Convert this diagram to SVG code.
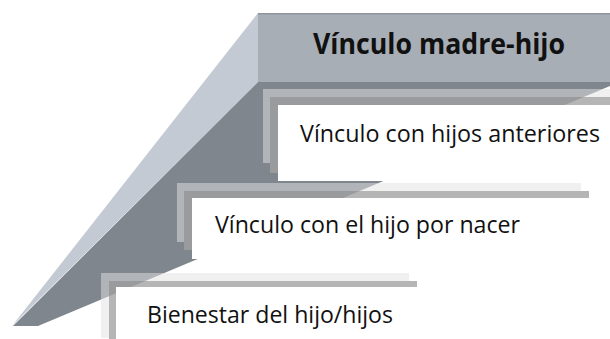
<svg xmlns="http://www.w3.org/2000/svg" width="610" height="339" viewBox="0 0 610 339">
  <style>
    .face-light { fill: #c4cad3; }
    .face-dark { fill: #7f868e; }
    .head { fill: #a8aeb6; }
    .band-out { fill: rgb(225,225,225); fill-opacity: 0.51; }
    .band-in { fill: rgb(161,161,161); fill-opacity: 0.787; }
    .box { fill: #ffffff; }
    .title { font-family: "Open Sans", "Liberation Sans", sans-serif; font-weight: bold; font-size: 29px; fill: #111111; }
    .label { font-family: "Open Sans", "Liberation Sans", sans-serif; font-size: 24px; fill: #111111; }
  </style>
  <rect width="610" height="339" fill="#ffffff"/>
  <g id="backdrop">
    <polygon class="face-light" points="258,13 258,82 12,326"/>
    <polygon class="face-dark" points="258,82 610,82 610,86 38,326 13,326"/>
  </g>
  <g id="node-main">
    <rect class="head" x="258" y="13" width="352" height="69"/>
    <rect x="258" y="13" width="352" height="1.5" fill="#8f959c"/>
    <text class="title" x="313" y="54" textLength="252" lengthAdjust="spacingAndGlyphs">Vínculo madre-hijo</text>
  </g>
  <g id="node-1">
    <path class="band-out" d="M263,89 H610 V97 H270 V163 H263 Z"/>
    <path class="band-in" d="M270,97 H610 V105 H278 V173 H270 Z"/>
    <rect class="box" x="278" y="105" width="332" height="76"/>
    <text class="label" x="300" y="142" textLength="300" lengthAdjust="spacingAndGlyphs">Vínculo con hijos anteriores</text>
  </g>
  <g id="node-2">
    <path class="band-out" d="M177,183 H581 V191 H184 V242 H177 Z"/>
    <path class="band-in" d="M184,191 H589 V198 H192 V250 H184 Z"/>
    <rect class="box" x="192" y="198" width="397" height="61"/>
    <text class="label" x="215" y="233" textLength="305" lengthAdjust="spacingAndGlyphs">Vínculo con el hijo por nacer</text>
  </g>
  <g id="node-3">
    <path class="band-out" d="M101,273 H409 V281 H109 V338 H101 Z"/>
    <path class="band-in" d="M109,281 H417 V287 H116 V339 H109 Z"/>
    <rect class="box" x="116" y="287" width="301" height="52"/>
    <text class="label" x="147" y="323" textLength="246" lengthAdjust="spacingAndGlyphs">Bienestar del hijo/hijos</text>
  </g>
</svg>
